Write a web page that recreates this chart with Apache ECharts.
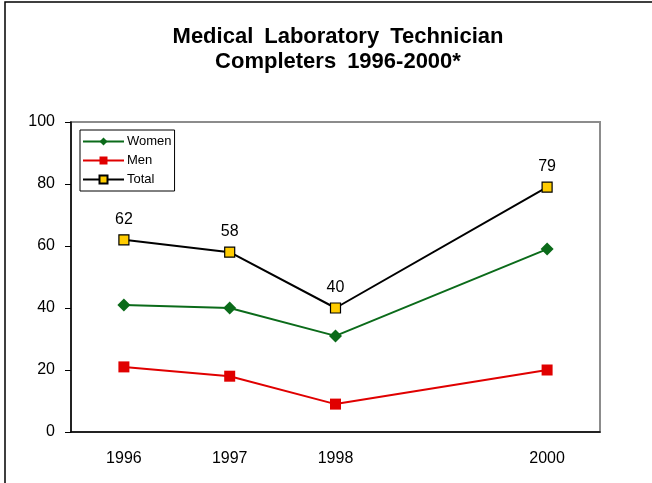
<!DOCTYPE html>
<html>
<head>
<meta charset="utf-8">
<script src="https://cdn.jsdelivr.net/npm/echarts@6/dist/echarts.min.js"></script>
<style>
  html, body { margin: 0; padding: 0; background: #fff; }
  #main { width: 652px; height: 483px; }
</style>
</head>
<body>
<div id="main"></div>
<script>
// years on the axis; 1999 has no data but keeps its slot
var years = ['1996', '1997', '1998', '1999', '2000'];
var women = [41, 40, 31, null, 59];
var men = [21, 18, 9, null, 20];
var total = [62, 58, 40, null, 79];
var yTicks = [0, 20, 40, 60, 80, 100];

var FONT = '"Liberation Sans", Arial, sans-serif';
var SP = '\u2002'; // wider word gap like the original title

var myChart = echarts.init(document.getElementById('main'));
var option = {
    animation: false,
    backgroundColor: '#fff',
    textStyle: { fontFamily: FONT, color: '#000' },
    title: {
        text: 'Medical' + SP + 'Laboratory' + SP + 'Technician\nCompleters' + SP + '1996-2000*',
        left: 333,
        top: 19,
        textAlign: 'center',
        textStyle: {
            fontFamily: FONT,
            fontSize: 22,
            fontWeight: 'bold',
            lineHeight: 25,
            color: '#000'
        }
    },
    graphic: [{
        type: 'rect',
        shape: { x: 5, y: 2, width: 700, height: 520 },
        style: { fill: 'none', stroke: '#000', lineWidth: 1.5 },
        silent: true
    }],
    legend: {
        orient: 'vertical',
        left: 80,
        top: 130,
        itemWidth: 41,
        itemHeight: 10,
        itemGap: 6,
        padding: [5, 3, 5, 2],
        borderColor: '#000',
        borderWidth: 1,
        backgroundColor: '#fff',
        textStyle: { fontFamily: FONT, fontSize: 13, color: '#000', padding: [0, 0, 0, -2] },
        data: ['Women', 'Men', 'Total']
    },
    grid: {
        left: 71,
        right: 52,
        top: 122,
        bottom: 51,
        show: true,
        borderColor: '#8c8c8c',
        borderWidth: 2
    },
    xAxis: {
        type: 'category',
        data: years,
        boundaryGap: true,
        axisLine: { lineStyle: { color: '#000', width: 1.5 } },
        axisTick: { show: false },
        axisLabel: {
            margin: 19,
            fontSize: 16,
            fontFamily: FONT,
            color: '#000',
            formatter: function (v) { return v === '1999' ? '' : v; }
        }
    },
    yAxis: {
        type: 'value',
        min: yTicks[0],
        max: yTicks[yTicks.length - 1],
        interval: 20,
        splitLine: { show: false },
        axisLine: { show: true, lineStyle: { color: '#000', width: 1.5 } },
        axisTick: { show: true, length: 6, lineStyle: { color: '#000' } },
        axisLabel: { margin: 16, fontSize: 16, fontFamily: FONT, color: '#000' }
    },
    series: [{
        name: 'Women',
        type: 'line',
        data: women,
        connectNulls: true,
        symbol: 'diamond',
        symbolSize: 13,
        lineStyle: { color: '#0b6b1a', width: 2 },
        itemStyle: { color: '#0b6b1a' }
    }, {
        name: 'Men',
        type: 'line',
        data: men,
        connectNulls: true,
        symbol: 'rect',
        symbolSize: 11,
        lineStyle: { color: '#e00000', width: 2 },
        itemStyle: { color: '#e00000' }
    }, {
        name: 'Total',
        type: 'line',
        data: total,
        connectNulls: true,
        symbol: 'rect',
        symbolSize: 10,
        lineStyle: { color: '#000', width: 2 },
        itemStyle: { color: '#ffcc00', borderColor: '#000', borderWidth: 1.2 },
        label: {
            show: true,
            position: 'top',
            distance: 7,
            fontSize: 16,
            fontFamily: FONT,
            color: '#000'
        }
    }]
};
myChart.setOption(option);
</script>
</body>
</html>
